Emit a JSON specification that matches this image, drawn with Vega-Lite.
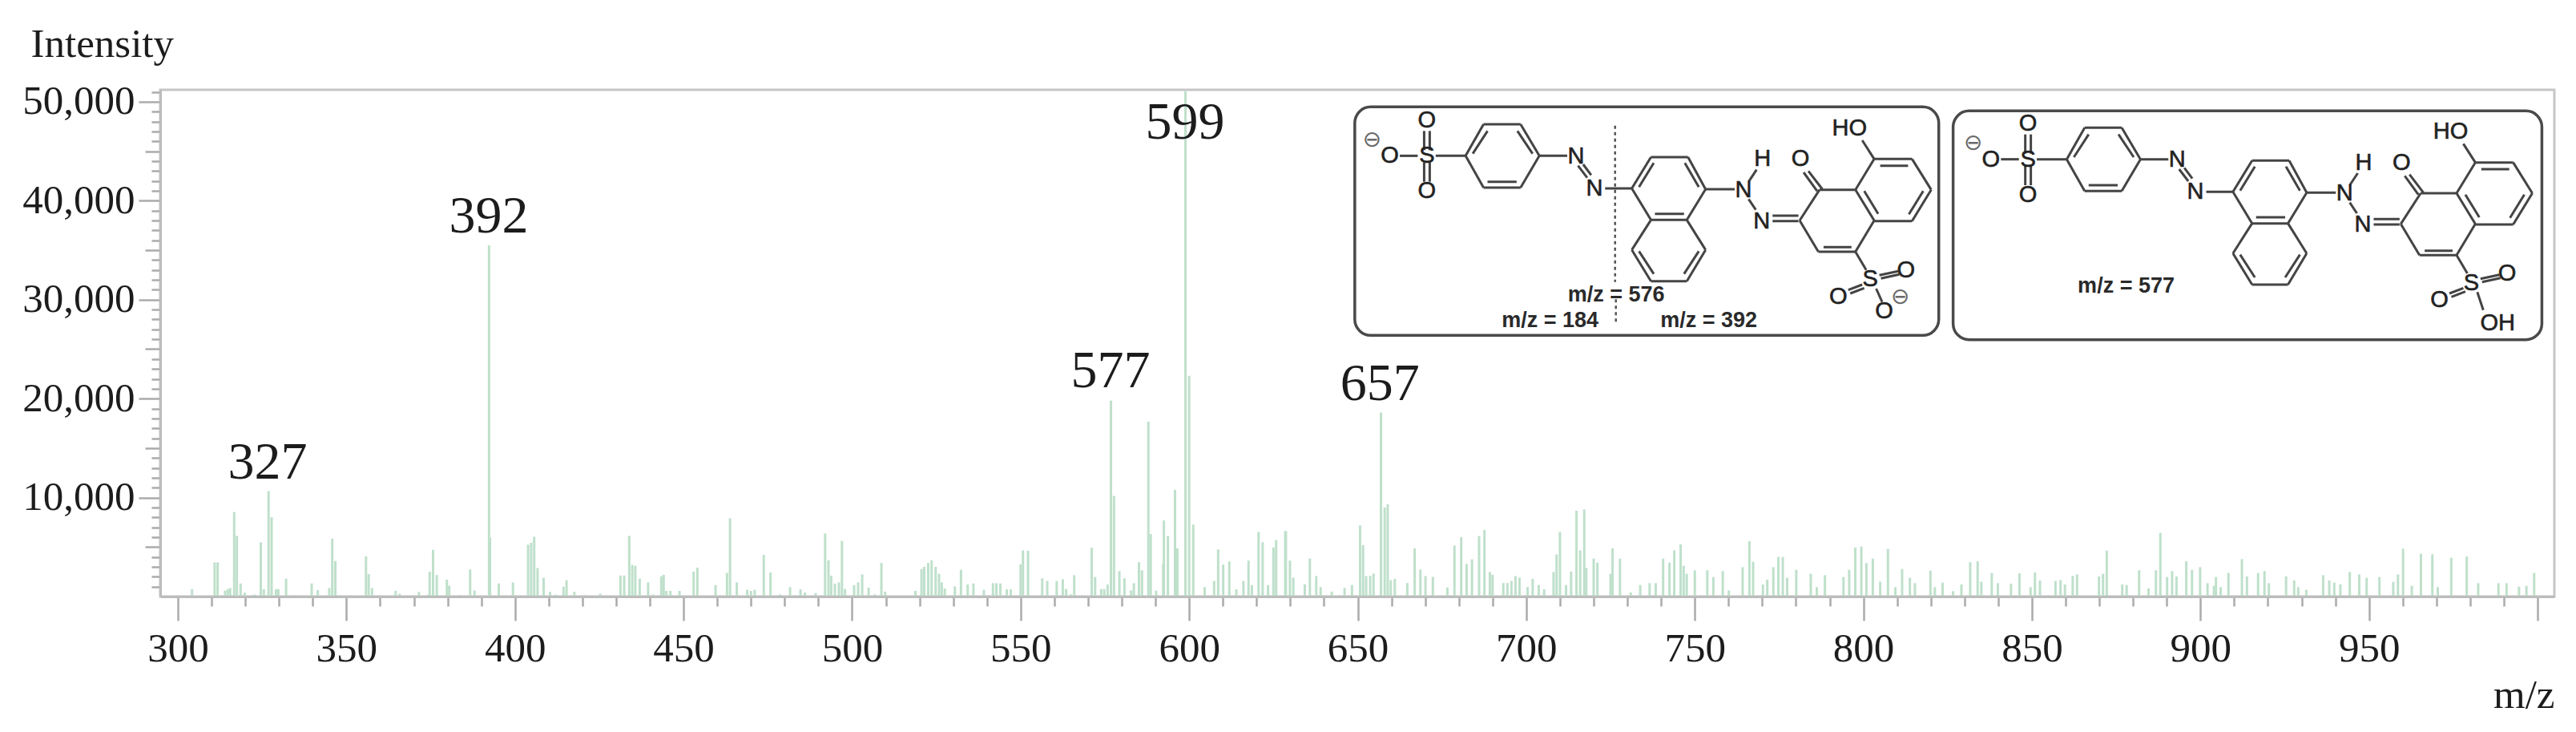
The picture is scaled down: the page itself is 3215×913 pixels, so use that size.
{"$schema":"https://vega.github.io/schema/vega-lite/v6.json","width":2988,"height":632,"autosize":{"type":"none"},"padding":{"left":200,"top":112,"right":27,"bottom":169},"background":"white","config":{"view":{"stroke":"#c6c6c6","strokeWidth":3},"axis":{"labelFont":"Liberation Serif","labelFontSize":51,"labelColor":"#1c1c1c","titleFont":"Liberation Serif","titleFontSize":51,"titleFontWeight":"normal","titleColor":"#1c1c1c","grid":false,"tickColor":"#ababab","tickWidth":2.5,"domainColor":"#bcbcbc","domainWidth":3}},
"datasets":{
"spectrum":[{"mz":304.2,"i":755},{"mz":310.9,"i":3445},{"mz":311.8,"i":3445},{"mz":314,"i":600},{"mz":314.8,"i":750},{"mz":315.5,"i":850},{"mz":316.7,"i":8540},{"mz":317.5,"i":6130},{"mz":318.6,"i":1320},{"mz":319.8,"i":400},{"mz":322.7,"i":200},{"mz":324.6,"i":5470},{"mz":325.5,"i":750},{"mz":326.9,"i":10660},{"mz":327.8,"i":8020},{"mz":329.1,"i":750},{"mz":329.8,"i":750},{"mz":332.1,"i":1800},{"mz":335,"i":150},{"mz":339.7,"i":1320},{"mz":341.5,"i":650},{"mz":344.9,"i":850},{"mz":345.8,"i":5850},{"mz":346.7,"i":3590},{"mz":355.8,"i":4060},{"mz":356.6,"i":2270},{"mz":357.6,"i":850},{"mz":364.6,"i":570},{"mz":365.8,"i":280},{"mz":371.5,"i":470},{"mz":374.3,"i":200},{"mz":374.7,"i":2500},{"mz":375.7,"i":4720},{"mz":376.8,"i":2170},{"mz":379.8,"i":1700},{"mz":380.5,"i":1090},{"mz":383.7,"i":150},{"mz":386.7,"i":2740},{"mz":388,"i":610},{"mz":392.3,"i":35500},{"mz":392.6,"i":5950},{"mz":395.2,"i":1320},{"mz":399.4,"i":1420},{"mz":403.9,"i":5240},{"mz":404.8,"i":5430},{"mz":405.7,"i":6040},{"mz":406.7,"i":2880},{"mz":408.5,"i":1890},{"mz":410.4,"i":470},{"mz":412,"i":190},{"mz":414.4,"i":990},{"mz":415.3,"i":1650},{"mz":417.6,"i":470},{"mz":420.7,"i":150},{"mz":425.3,"i":280},{"mz":431.3,"i":2120},{"mz":432.4,"i":2120},{"mz":433.9,"i":6130},{"mz":434.8,"i":3200},{"mz":435.7,"i":3100},{"mz":437,"i":1800},{"mz":439.5,"i":1430},{"mz":440.9,"i":200},{"mz":443.4,"i":2050},{"mz":444.1,"i":2190},{"mz":444.9,"i":570},{"mz":446.1,"i":570},{"mz":448.8,"i":570},{"mz":453,"i":2510},{"mz":454.1,"i":2920},{"mz":459.5,"i":1160},{"mz":462.9,"i":2380},{"mz":463.8,"i":7910},{"mz":465.8,"i":1430},{"mz":468.9,"i":680},{"mz":470,"i":570},{"mz":471.1,"i":680},{"mz":473.8,"i":4210},{"mz":475.8,"i":2430},{"mz":478.6,"i":220},{"mz":481.6,"i":950},{"mz":484.7,"i":730},{"mz":486,"i":400},{"mz":489.2,"i":350},{"mz":492,"i":6370},{"mz":493,"i":3670},{"mz":493.8,"i":2100},{"mz":494.9,"i":1300},{"mz":496.1,"i":1430},{"mz":497,"i":5620},{"mz":497.9,"i":760},{"mz":500.6,"i":1160},{"mz":501.8,"i":1430},{"mz":503,"i":2240},{"mz":504.9,"i":890},{"mz":506.7,"i":220},{"mz":508.7,"i":3400},{"mz":509.8,"i":490},{"mz":518.8,"i":570},{"mz":520.6,"i":2780},{"mz":521.4,"i":3000},{"mz":522.6,"i":3400},{"mz":523.6,"i":3670},{"mz":524.8,"i":3000},{"mz":525.8,"i":2300},{"mz":526.6,"i":1430},{"mz":527.5,"i":810},{"mz":530.5,"i":1030},{"mz":532.3,"i":2700},{"mz":534.3,"i":1220},{"mz":536,"i":1320},{"mz":539.1,"i":680},{"mz":541.8,"i":1350},{"mz":542.8,"i":1350},{"mz":544,"i":1320},{"mz":545.9,"i":730},{"mz":547.1,"i":730},{"mz":550,"i":3240},{"mz":550.7,"i":4670},{"mz":552.2,"i":4620},{"mz":556.4,"i":1840},{"mz":557.9,"i":1570},{"mz":560.7,"i":1570},{"mz":562.5,"i":1750},{"mz":563.5,"i":760},{"mz":564.9,"i":220},{"mz":565.9,"i":2160},{"mz":571.1,"i":4940},{"mz":572.1,"i":1970},{"mz":573.9,"i":760},{"mz":574.8,"i":760},{"mz":575.8,"i":1220},{"mz":576.8,"i":19800},{"mz":577.7,"i":10160},{"mz":579.3,"i":2560},{"mz":580.8,"i":1840},{"mz":582.8,"i":620},{"mz":583.6,"i":1350},{"mz":585.1,"i":3460},{"mz":586,"i":2650},{"mz":587.9,"i":17680},{"mz":588.6,"i":6320},{"mz":590.2,"i":600},{"mz":592.3,"i":3300},{"mz":592.5,"i":7680},{"mz":593.7,"i":6110},{"mz":595.8,"i":10780},{"mz":596.5,"i":4870},{"mz":598.9,"i":51100},{"mz":600,"i":22300},{"mz":601.2,"i":7270},{"mz":604.6,"i":950},{"mz":607.4,"i":1570},{"mz":608.6,"i":4750},{"mz":610.1,"i":3220},{"mz":611.9,"i":3550},{"mz":614,"i":740},{"mz":616.1,"i":1570},{"mz":617.6,"i":3630},{"mz":618.6,"i":1160},{"mz":620.6,"i":6530},{"mz":621.8,"i":5490},{"mz":623.4,"i":1160},{"mz":625,"i":4960},{"mz":625.8,"i":5700},{"mz":628.5,"i":6610},{"mz":628.7,"i":6610},{"mz":629.9,"i":3630},{"mz":630.9,"i":1900},{"mz":634.3,"i":1240},{"mz":635.8,"i":3840},{"mz":637.7,"i":2070},{"mz":639,"i":950},{"mz":642.3,"i":500},{"mz":646.1,"i":870},{"mz":648.3,"i":1160},{"mz":650.7,"i":7190},{"mz":651.6,"i":5200},{"mz":652.5,"i":2070},{"mz":653.7,"i":2070},{"mz":654.7,"i":2310},{"mz":656.9,"i":18590},{"mz":658,"i":9000},{"mz":658.9,"i":9330},{"mz":659.8,"i":1650},{"mz":661,"i":1780},{"mz":664.7,"i":1360},{"mz":666.9,"i":4870},{"mz":668.6,"i":2730},{"mz":670.1,"i":2070},{"mz":672.3,"i":1980},{"mz":676.6,"i":910},{"mz":678.7,"i":5160},{"mz":680.7,"i":5990},{"mz":682.3,"i":3300},{"mz":683.9,"i":3760},{"mz":686,"i":6110},{"mz":687.6,"i":6730},{"mz":689.2,"i":2480},{"mz":690,"i":2190},{"mz":693.2,"i":1360},{"mz":694.4,"i":1360},{"mz":695.6,"i":1570},{"mz":696.8,"i":2070},{"mz":698,"i":1900},{"mz":700.4,"i":950},{"mz":701.9,"i":1780},{"mz":703.7,"i":1160},{"mz":705.3,"i":740},{"mz":708.1,"i":2480},{"mz":709,"i":4250},{"mz":710,"i":6530},{"mz":711.8,"i":1160},{"mz":713.3,"i":2520},{"mz":714.9,"i":8670},{"mz":716,"i":4670},{"mz":717.2,"i":8800},{"mz":717.8,"i":2890},{"mz":720,"i":3840},{"mz":721.1,"i":3430},{"mz":725,"i":2300},{"mz":725.6,"i":4860},{"mz":727.8,"i":3830},{"mz":731,"i":400},{"mz":733.8,"i":1160},{"mz":736.6,"i":1350},{"mz":738.4,"i":1350},{"mz":740.6,"i":3830},{"mz":742.5,"i":3430},{"mz":743.9,"i":4670},{"mz":745.8,"i":5270},{"mz":746.7,"i":3100},{"mz":747.6,"i":2300},{"mz":750,"i":2650},{"mz":753.7,"i":2650},{"mz":755.5,"i":1970},{"mz":758.3,"i":2570},{"mz":760.1,"i":620},{"mz":764.2,"i":2970},{"mz":766.2,"i":5590},{"mz":767.3,"i":3510},{"mz":770.2,"i":1220},{"mz":771.5,"i":1700},{"mz":773.3,"i":2970},{"mz":774.8,"i":4000},{"mz":776.1,"i":4000},{"mz":777.4,"i":1890},{"mz":780.1,"i":2700},{"mz":784.4,"i":2300},{"mz":786.2,"i":950},{"mz":788.6,"i":2160},{"mz":794.1,"i":1970},{"mz":795.8,"i":2700},{"mz":797.6,"i":4940},{"mz":799.4,"i":5050},{"mz":800.9,"i":3380},{"mz":802.8,"i":3830},{"mz":805,"i":1500},{"mz":807.3,"i":4810},{"mz":809.5,"i":950},{"mz":811.5,"i":2780},{"mz":813.8,"i":1890},{"mz":815.3,"i":1350},{"mz":819.9,"i":2620},{"mz":821.2,"i":950},{"mz":823.5,"i":1400},{"mz":826.6,"i":540},{"mz":829.1,"i":1220},{"mz":831.7,"i":3460},{"mz":833.9,"i":3560},{"mz":835,"i":1500},{"mz":838.1,"i":2380},{"mz":839.9,"i":1350},{"mz":843.8,"i":1300},{"mz":846.3,"i":2350},{"mz":849.6,"i":950},{"mz":850.9,"i":2430},{"mz":852.4,"i":1620},{"mz":857,"i":1570},{"mz":858.5,"i":1670},{"mz":859.8,"i":1220},{"mz":862.1,"i":2080},{"mz":863.4,"i":2240},{"mz":869.9,"i":2030},{"mz":871.1,"i":2300},{"mz":872.2,"i":4640},{"mz":876.8,"i":1220},{"mz":878.1,"i":1160},{"mz":881.8,"i":2650},{"mz":884.6,"i":810},{"mz":886.8,"i":2650},{"mz":888.1,"i":6430},{"mz":890.1,"i":1970},{"mz":891.6,"i":2570},{"mz":892.9,"i":2030},{"mz":895.8,"i":3560},{"mz":897.5,"i":2700},{"mz":899.9,"i":2970},{"mz":902.1,"i":1350},{"mz":904,"i":1080},{"mz":904.6,"i":1970},{"mz":906,"i":950},{"mz":908.3,"i":2380},{"mz":912.3,"i":3780},{"mz":913.8,"i":2030},{"mz":917.1,"i":2380},{"mz":919,"i":2570},{"mz":920.3,"i":1350},{"mz":925.4,"i":2030},{"mz":927.8,"i":1620},{"mz":929,"i":950},{"mz":931.4,"i":680},{"mz":936.4,"i":2160},{"mz":938.2,"i":1620},{"mz":939.7,"i":1400},{"mz":941.5,"i":1220},{"mz":944.3,"i":2480},{"mz":947.1,"i":2240},{"mz":949.3,"i":1890},{"mz":953.1,"i":1970},{"mz":957.2,"i":1480},{"mz":958.6,"i":2240},{"mz":960.1,"i":4830},{"mz":962.7,"i":1080},{"mz":965.4,"i":4320},{"mz":968.8,"i":4270},{"mz":970.4,"i":950},{"mz":974.4,"i":3920},{"mz":979,"i":4050},{"mz":982.4,"i":1350},{"mz":988.4,"i":1350},{"mz":990.8,"i":1350},{"mz":994.5,"i":1000},{"mz":996.7,"i":1080},{"mz":999,"i":2380}],
"peaks":[{"mz":326.6,"i":11900,"label":"327"},{"mz":392.2,"i":36800,"label":"392"},{"mz":598.8,"i":46300,"label":"599"},{"mz":576.7,"i":21130,"label":"577"},{"mz":656.6,"i":19850,"label":"657"}],
"boxes":[{"u":62,"v":70,"u2":1527,"v2":925},{"u":1563,"v":85,"u2":3040,"v2":941}],
"dotted":[{"u":715,"v":140,"u2":715,"v2":725},{"u":717,"v":790,"u2":717,"v2":885}],
"bonds":[{"u":175,"v":253,"u2":220,"v2":253},{"u":236,"v":160,"u2":236,"v2":232},{"u":250,"v":160,"u2":250,"v2":232},{"u":236,"v":278,"u2":236,"v2":350},{"u":250,"v":278,"u2":250,"v2":350},{"u":265,"v":253,"u2":340,"v2":253},{"u":340,"v":253,"u2":385,"v2":135},{"u":385,"v":135,"u2":478,"v2":135},{"u":478,"v":135,"u2":525,"v2":253},{"u":525,"v":253,"u2":478,"v2":372},{"u":478,"v":372,"u2":385,"v2":372},{"u":385,"v":372,"u2":340,"v2":253},{"u":358,"v":245,"u2":395,"v2":160},{"u":470,"v":160,"u2":508,"v2":245},{"u":395,"v":350,"u2":468,"v2":350},{"u":525,"v":253,"u2":595,"v2":253},{"u":622,"v":290,"u2":645,"v2":335},{"u":635,"v":285,"u2":655,"v2":325},{"u":690,"v":375,"u2":757,"v2":375},{"u":757,"v":375,"u2":805,"v2":258},{"u":805,"v":258,"u2":898,"v2":258},{"u":898,"v":258,"u2":942,"v2":378},{"u":942,"v":378,"u2":895,"v2":493},{"u":895,"v":493,"u2":805,"v2":493},{"u":805,"v":493,"u2":757,"v2":375},{"u":775,"v":370,"u2":812,"v2":280},{"u":890,"v":280,"u2":925,"v2":370},{"u":815,"v":470,"u2":888,"v2":470},{"u":805,"v":493,"u2":757,"v2":605},{"u":757,"v":605,"u2":805,"v2":722},{"u":805,"v":722,"u2":895,"v2":722},{"u":895,"v":722,"u2":942,"v2":605},{"u":942,"v":605,"u2":895,"v2":493},{"u":775,"v":610,"u2":812,"v2":695},{"u":888,"v":695,"u2":925,"v2":610},{"u":942,"v":378,"u2":1015,"v2":378},{"u":1050,"v":350,"u2":1070,"v2":305},{"u":1050,"v":415,"u2":1068,"v2":455},{"u":1110,"v":477,"u2":1175,"v2":477},{"u":1110,"v":497,"u2":1175,"v2":497},{"u":1178,"v":495,"u2":1228,"v2":380},{"u":1228,"v":380,"u2":1318,"v2":380},{"u":1318,"v":380,"u2":1365,"v2":495},{"u":1365,"v":495,"u2":1318,"v2":612},{"u":1318,"v":612,"u2":1225,"v2":612},{"u":1225,"v":612,"u2":1178,"v2":495},{"u":1238,"v":595,"u2":1308,"v2":595},{"u":1318,"v":380,"u2":1365,"v2":265},{"u":1365,"v":265,"u2":1460,"v2":265},{"u":1460,"v":265,"u2":1508,"v2":380},{"u":1508,"v":380,"u2":1460,"v2":497},{"u":1460,"v":497,"u2":1365,"v2":497},{"u":1380,"v":290,"u2":1450,"v2":290},{"u":1488,"v":385,"u2":1452,"v2":472},{"u":1340,"v":385,"u2":1375,"v2":470},{"u":1222,"v":385,"u2":1188,"v2":315},{"u":1235,"v":378,"u2":1200,"v2":310},{"u":1335,"v":195,"u2":1365,"v2":265},{"u":1318,"v":612,"u2":1345,"v2":680},{"u":1378,"v":700,"u2":1425,"v2":685},{"u":1382,"v":712,"u2":1428,"v2":697},{"u":1300,"v":755,"u2":1335,"v2":735},{"u":1305,"v":768,"u2":1340,"v2":748},{"u":1370,"v":750,"u2":1385,"v2":800},
{"u":1683,"v":266,"u2":1728,"v2":266},{"u":1744,"v":173,"u2":1744,"v2":245},{"u":1758,"v":173,"u2":1758,"v2":245},{"u":1744,"v":291,"u2":1744,"v2":363},{"u":1758,"v":291,"u2":1758,"v2":363},{"u":1773,"v":266,"u2":1848,"v2":266},{"u":1848,"v":266,"u2":1893,"v2":148},{"u":1893,"v":148,"u2":1986,"v2":148},{"u":1986,"v":148,"u2":2033,"v2":266},{"u":2033,"v":266,"u2":1986,"v2":385},{"u":1986,"v":385,"u2":1893,"v2":385},{"u":1893,"v":385,"u2":1848,"v2":266},{"u":1866,"v":258,"u2":1903,"v2":173},{"u":1978,"v":173,"u2":2016,"v2":258},{"u":1903,"v":363,"u2":1976,"v2":363},{"u":2033,"v":266,"u2":2103,"v2":266},{"u":2130,"v":303,"u2":2153,"v2":348},{"u":2143,"v":298,"u2":2163,"v2":338},{"u":2198,"v":388,"u2":2265,"v2":388},{"u":2265,"v":388,"u2":2313,"v2":271},{"u":2313,"v":271,"u2":2406,"v2":271},{"u":2406,"v":271,"u2":2450,"v2":391},{"u":2450,"v":391,"u2":2403,"v2":506},{"u":2403,"v":506,"u2":2313,"v2":506},{"u":2313,"v":506,"u2":2265,"v2":388},{"u":2283,"v":383,"u2":2320,"v2":293},{"u":2398,"v":293,"u2":2433,"v2":383},{"u":2323,"v":483,"u2":2396,"v2":483},{"u":2313,"v":506,"u2":2265,"v2":618},{"u":2265,"v":618,"u2":2313,"v2":735},{"u":2313,"v":735,"u2":2403,"v2":735},{"u":2403,"v":735,"u2":2450,"v2":618},{"u":2450,"v":618,"u2":2403,"v2":506},{"u":2283,"v":623,"u2":2320,"v2":708},{"u":2396,"v":708,"u2":2433,"v2":623},{"u":2450,"v":391,"u2":2523,"v2":391},{"u":2558,"v":363,"u2":2578,"v2":318},{"u":2558,"v":428,"u2":2576,"v2":468},{"u":2618,"v":490,"u2":2683,"v2":490},{"u":2618,"v":510,"u2":2683,"v2":510},{"u":2686,"v":508,"u2":2736,"v2":393},{"u":2736,"v":393,"u2":2826,"v2":393},{"u":2826,"v":393,"u2":2873,"v2":508},{"u":2873,"v":508,"u2":2826,"v2":625},{"u":2826,"v":625,"u2":2733,"v2":625},{"u":2733,"v":625,"u2":2686,"v2":508},{"u":2746,"v":608,"u2":2816,"v2":608},{"u":2826,"v":393,"u2":2873,"v2":278},{"u":2873,"v":278,"u2":2968,"v2":278},{"u":2968,"v":278,"u2":3016,"v2":393},{"u":3016,"v":393,"u2":2968,"v2":510},{"u":2968,"v":510,"u2":2873,"v2":510},{"u":2888,"v":303,"u2":2958,"v2":303},{"u":2996,"v":398,"u2":2960,"v2":485},{"u":2848,"v":398,"u2":2883,"v2":483},{"u":2730,"v":398,"u2":2696,"v2":328},{"u":2743,"v":391,"u2":2708,"v2":323},{"u":2843,"v":208,"u2":2873,"v2":278},{"u":2826,"v":625,"u2":2853,"v2":693},{"u":2886,"v":713,"u2":2933,"v2":698},{"u":2890,"v":725,"u2":2936,"v2":710},{"u":2808,"v":768,"u2":2843,"v2":748},{"u":2813,"v":781,"u2":2848,"v2":761},{"u":2878,"v":763,"u2":2893,"v2":830}],
"atoms":[{"u":150,"v":253,"t":"O"},{"u":243,"v":253,"t":"S"},{"u":243,"v":120,"t":"O"},{"u":243,"v":385,"t":"O"},{"u":617,"v":255,"t":"N"},{"u":663,"v":375,"t":"N"},{"u":1037,"v":380,"t":"N"},{"u":1085,"v":265,"t":"H"},{"u":1083,"v":497,"t":"N"},{"u":1180,"v":265,"t":"O"},{"u":1303,"v":150,"t":"HO"},{"u":1355,"v":715,"t":"S"},{"u":1445,"v":680,"t":"O"},{"u":1275,"v":780,"t":"O"},{"u":1390,"v":835,"t":"O"},{"u":1658,"v":266,"t":"O"},{"u":1751,"v":266,"t":"S"},{"u":1751,"v":133,"t":"O"},{"u":1751,"v":398,"t":"O"},{"u":2125,"v":268,"t":"N"},{"u":2171,"v":388,"t":"N"},{"u":2545,"v":393,"t":"N"},{"u":2593,"v":278,"t":"H"},{"u":2591,"v":510,"t":"N"},{"u":2688,"v":278,"t":"O"},{"u":2811,"v":163,"t":"HO"},{"u":2863,"v":728,"t":"S"},{"u":2953,"v":693,"t":"O"},{"u":2783,"v":793,"t":"O"},{"u":2929,"v":880,"t":"OH"}],
"charges":[{"u":105,"v":195,"t":"⊖"},{"u":1430,"v":783,"t":"⊖"},{"u":1613,"v":208,"t":"⊖"}],
"notes":[{"u":718,"v":775,"t":"m/z = 576"},{"u":552,"v":870,"t":"m/z = 184"},{"u":950,"v":870,"t":"m/z = 392"},{"u":1997,"v":740,"t":"m/z = 577"}]
},
"resolve":{"scale":{"x":"independent","y":"independent"},"axis":{"x":"independent","y":"independent"}},
"layer":[
{"data":{"name":"spectrum"},"mark":{"type":"rule","color":"#bfe0cb","strokeWidth":3,"clip":true},"encoding":{
"x":{"field":"mz","type":"quantitative","scale":{"domain":[294.77,1004.99],"nice":false,"zero":false},"axis":{"orient":"bottom","values":[300,350,400,450,500,550,600,650,700,750,800,850,900,950,1000],"tickSize":30,"labelPadding":10,"labelExpr":"datum.value===1000?'':datum.label","labelFlush":false,"labelOverlap":false,"title":"m/z","titleX":2988,"titleY":138,"titleAlign":"right","titleBaseline":"alphabetic","zindex":1}},
"y":{"field":"i","type":"quantitative","scale":{"domain":[0,51215],"nice":false,"zero":true},"axis":{"orient":"left","values":[10000,20000,30000,40000,50000],"tickSize":27,"labelPadding":5,"labelExpr":"format(datum.value,',')","labelOverlap":false,"title":"Intensity","titleAngle":0,"titleX":-162,"titleY":-42,"titleAlign":"left","titleBaseline":"alphabetic","zindex":1}},
"y2":{"datum":0}}},
{"data":{"name":"spectrum"},"mark":{"type":"rule","opacity":0},"encoding":{
"x":{"field":"mz","type":"quantitative","scale":{"domain":[294.77,1004.99],"nice":false,"zero":false},"axis":{"orient":"bottom","values":[310,320,330,340,360,370,380,390,410,420,430,440,460,470,480,490,510,520,530,540,560,570,580,590,610,620,630,640,660,670,680,690,710,720,730,740,760,770,780,790,810,820,830,840,860,870,880,890,910,920,930,940,960,970,980,990],"tickSize":12,"labels":false,"domain":false,"title":null}},
"y":{"field":"i","type":"quantitative","scale":{"domain":[0,51215],"nice":false,"zero":true},"axis":{"orient":"left","values":[1000,2000,3000,4000,6000,7000,8000,9000,11000,12000,13000,14000,16000,17000,18000,19000,21000,22000,23000,24000,26000,27000,28000,29000,31000,32000,33000,34000,36000,37000,38000,39000,41000,42000,43000,44000,46000,47000,48000,49000,51000],"tickSize":11,"labels":false,"domain":false,"title":null}},
"y2":{"datum":0}}},
{"data":{"name":"spectrum"},"mark":{"type":"rule","opacity":0},"encoding":{
"x":{"field":"mz","type":"quantitative","scale":{"domain":[294.77,1004.99],"nice":false,"zero":false},"axis":null},
"y":{"field":"i","type":"quantitative","scale":{"domain":[0,51215],"nice":false,"zero":true},"axis":{"orient":"left","values":[5000,15000,25000,35000,45000],"tickSize":19,"labels":false,"domain":false,"title":null}},
"y2":{"datum":0}}},
{"data":{"name":"peaks"},"mark":{"type":"text","font":"Liberation Serif","fontSize":66,"color":"#1c1c1c","align":"center","baseline":"alphabetic"},"encoding":{
"x":{"field":"mz","type":"quantitative","scale":{"domain":[294.77,1004.99],"nice":false,"zero":false},"axis":null},
"y":{"field":"i","type":"quantitative","scale":{"domain":[0,51215],"nice":false,"zero":true},"axis":null},
"text":{"field":"label","type":"nominal"}}},
{"data":{"name":"boxes"},"mark":{"type":"rect","fill":"white","stroke":"#4a4a4a","strokeWidth":3.5,"cornerRadius":20},"encoding":{
"x":{"field":"u","type":"quantitative","scale":{"domain":[-2934.6,3071.3],"nice":false,"zero":false},"axis":null},"x2":{"field":"u2"},
"y":{"field":"v","type":"quantitative","scale":{"domain":[1902,6],"nice":false,"zero":false},"axis":null},"y2":{"field":"v2"}}},
{"data":{"name":"dotted"},"mark":{"type":"rule","color":"#555555","strokeWidth":2.5,"strokeDash":[4,4]},"encoding":{
"x":{"field":"u","type":"quantitative","scale":{"domain":[-2934.6,3071.3],"nice":false,"zero":false},"axis":null},"x2":{"field":"u2"},
"y":{"field":"v","type":"quantitative","scale":{"domain":[1902,6],"nice":false,"zero":false},"axis":null},"y2":{"field":"v2"}}},
{"data":{"name":"bonds"},"mark":{"type":"rule","color":"#444444","strokeWidth":3},"encoding":{
"x":{"field":"u","type":"quantitative","scale":{"domain":[-2934.6,3071.3],"nice":false,"zero":false},"axis":null},"x2":{"field":"u2"},
"y":{"field":"v","type":"quantitative","scale":{"domain":[1902,6],"nice":false,"zero":false},"axis":null},"y2":{"field":"v2"}}},
{"data":{"name":"atoms"},"mark":{"type":"text","font":"Liberation Sans","fontSize":29,"color":"#222222","align":"center","baseline":"middle","stroke":"#222222","strokeWidth":0.6},"encoding":{
"x":{"field":"u","type":"quantitative","scale":{"domain":[-2934.6,3071.3],"nice":false,"zero":false},"axis":null},
"y":{"field":"v","type":"quantitative","scale":{"domain":[1902,6],"nice":false,"zero":false},"axis":null},
"text":{"field":"t","type":"nominal"}}},
{"data":{"name":"charges"},"mark":{"type":"text","font":"DejaVu Sans","fontSize":28,"color":"#6a6a6a","align":"center","baseline":"middle"},"encoding":{
"x":{"field":"u","type":"quantitative","scale":{"domain":[-2934.6,3071.3],"nice":false,"zero":false},"axis":null},
"y":{"field":"v","type":"quantitative","scale":{"domain":[1902,6],"nice":false,"zero":false},"axis":null},
"text":{"field":"t","type":"nominal"}}},
{"data":{"name":"notes"},"mark":{"type":"text","font":"Liberation Sans","fontWeight":"bold","fontSize":27,"color":"#2a2a2a","align":"center","baseline":"middle"},"encoding":{
"x":{"field":"u","type":"quantitative","scale":{"domain":[-2934.6,3071.3],"nice":false,"zero":false},"axis":null},
"y":{"field":"v","type":"quantitative","scale":{"domain":[1902,6],"nice":false,"zero":false},"axis":null},
"text":{"field":"t","type":"nominal"}}}
]}
